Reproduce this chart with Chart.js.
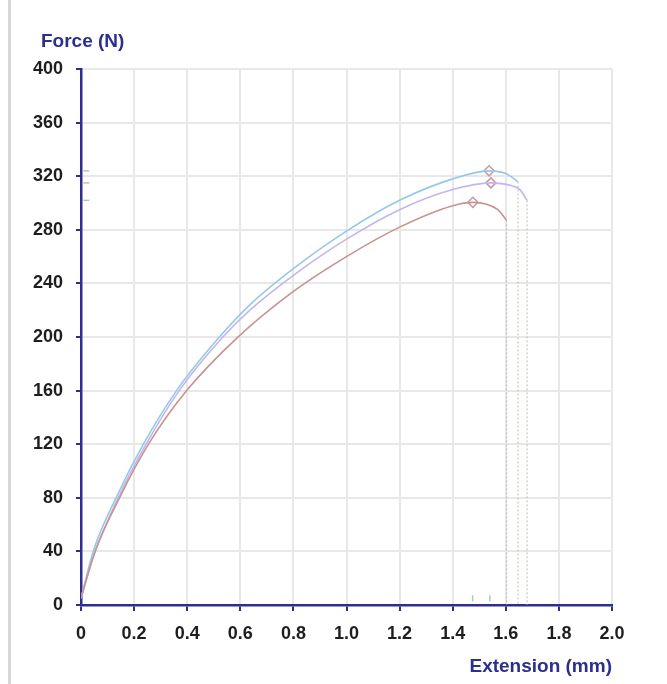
<!DOCTYPE html>
<html>
<head>
<meta charset="utf-8">
<title>Force vs Extension</title>
<script src="https://cdn.jsdelivr.net/npm/chart.js@4.4.1/dist/chart.umd.min.js"></script>
<style>
  body { margin: 0; background: #fff; }
  #wrap { position: relative; width: 667px; height: 684px; overflow: hidden; }
  #edge { position: absolute; left: 8px; top: 0; width: 3px; height: 684px; background: #d6d6d6; }
  .ttl { position: absolute; font: bold 19px 'Liberation Sans', Arial, sans-serif; color: #2e2e8f; line-height: 22px; white-space: nowrap; }
  #ytitle { left: 41px; top: 30px; }
  #xtitle { right: 55px; top: 655px; }
  canvas { position: absolute; left: 0; top: 0; }
</style>
</head>
<body>
<div id="wrap">
  <div id="edge"></div>
  <canvas id="forceChart" width="667" height="684"></canvas>
  <div class="ttl" id="ytitle">Force (N)</div>
  <div class="ttl" id="xtitle">Extension (mm)</div>
</div>
<script>
// specimen curves (extension in mm, force in N)
const extBlue   = [0, 0.046, 0.132, 0.235, 0.36, 0.517, 0.636, 0.8, 1.0, 1.2, 1.4, 1.537, 1.6, 1.646];
const forceBlue = [5, 40, 80, 120, 160, 199, 224, 251, 279, 302, 318, 324, 322, 316];

const extPurple   = [0, 0.05, 0.14, 0.245, 0.37, 0.53, 0.636, 0.8, 1.0, 1.2, 1.4, 1.544, 1.62, 1.653, 1.68];
const forcePurple = [5, 38, 80, 120, 160, 199, 220, 246, 273, 295, 310, 315, 313, 310, 302];

const extRed   = [0, 0.053, 0.145, 0.254, 0.398, 0.586, 0.8, 1.0, 1.2, 1.4, 1.476, 1.57, 1.603];
const forceRed = [5, 40, 80, 120, 160, 199, 234, 260, 282, 298, 300.5, 295, 287];

// peak markers
const peakExt   = [1.537, 1.544, 1.476];
const peakForce = [324, 315, 300.5];

// little green flags the software left on the axes
const flagForce = [324, 315, 302];
const flagExt   = [1.475, 1.54];

const xTicks = [0, 0.2, 0.4, 0.6, 0.8, 1.0, 1.2, 1.4, 1.6, 1.8, 2.0];
const yTicks = [0, 40, 80, 120, 160, 200, 240, 280, 320, 360, 400];

const navy = '#2e2e8f';

function pts(xs, ys) {
    return xs.map((x, i) => ({ x: x, y: ys[i] }));
}

function lastPt(xs, ys) {
    const n = xs.length - 1;
    return [{ x: xs[n], y: ys[n] }, { x: xs[n], y: 0 }];
}

function curve(data, color) {
    return {
        data: data,
        showLine: true,
        borderColor: color,
        borderWidth: 1.6,
        pointRadius: 0,
        cubicInterpolationMode: 'monotone',
        fill: false
    };
}

function drop(data) {
    return {
        data: data,
        showLine: true,
        borderColor: '#b2c2ac',
        borderWidth: 1,
        borderDash: [2, 2],
        pointRadius: 0
    };
}

const ctx = document.getElementById('forceChart');

new Chart(ctx, {
    type: 'scatter',
    data: {
        datasets: [
            drop(lastPt(extRed, forceRed)),
            drop(lastPt(extBlue, forceBlue)),
            drop(lastPt(extPurple, forcePurple)),
            curve(pts(extRed, forceRed), '#c8928e'),
            curve(pts(extPurple, forcePurple), '#c2b6ea'),
            curve(pts(extBlue, forceBlue), '#94c8e8'),
            {
                data: pts(peakExt, peakForce),
                pointStyle: 'rectRot',
                pointRadius: 5,
                borderColor: '#cc97a2',
                borderWidth: 1.5,
                backgroundColor: 'rgba(255,255,255,0)'
            },
            {
                data: flagForce.map(f => ({ x: 0.02, y: f })),
                pointStyle: 'line',
                pointRadius: 3,
                borderColor: '#a6d39a',
                borderWidth: 1.5
            },
            {
                data: flagExt.map(e => ({ x: e, y: 5 })),
                pointStyle: 'line',
                rotation: 90,
                pointRadius: 3,
                borderColor: '#a6d39a',
                borderWidth: 1.5
            }
        ]
    },
    options: {
        responsive: false,
        animation: false,
        layout: { padding: { top: 69, right: 55, bottom: 0, left: 0 } },
        plugins: {
            legend: { display: false },
            tooltip: { enabled: false }
        },
        scales: {
            x: {
                type: 'linear',
                min: 0,
                max: 2,
                afterFit: s => { s.height = 79; },
                afterBuildTicks: s => { s.ticks = xTicks.map(v => ({ value: v })); },
                border: { color: navy, width: 2.5 },
                grid: { color: '#e8e8e8', lineWidth: 2, tickColor: navy, tickLength: 6, tickWidth: 2 },
                ticks: {
                    padding: 12,
                    color: '#1e1e1e',
                    font: { family: "'Liberation Sans', Arial, sans-serif", size: 18, weight: 'bold' },
                    callback: v => v === 0 ? '0' : v.toFixed(1)
                }
            },
            y: {
                min: 0,
                max: 400,
                afterFit: s => { s.width = 81; },
                afterBuildTicks: s => { s.ticks = yTicks.map(v => ({ value: v })); },
                border: { color: navy, width: 2.5 },
                grid: { color: '#e8e8e8', lineWidth: 2, tickColor: navy, tickLength: 5, tickWidth: 2 },
                ticks: {
                    padding: 13,
                    color: '#1e1e1e',
                    font: { family: "'Liberation Sans', Arial, sans-serif", size: 18, weight: 'bold' }
                }
            }
        }
    }
});
</script>
</body>
</html>
